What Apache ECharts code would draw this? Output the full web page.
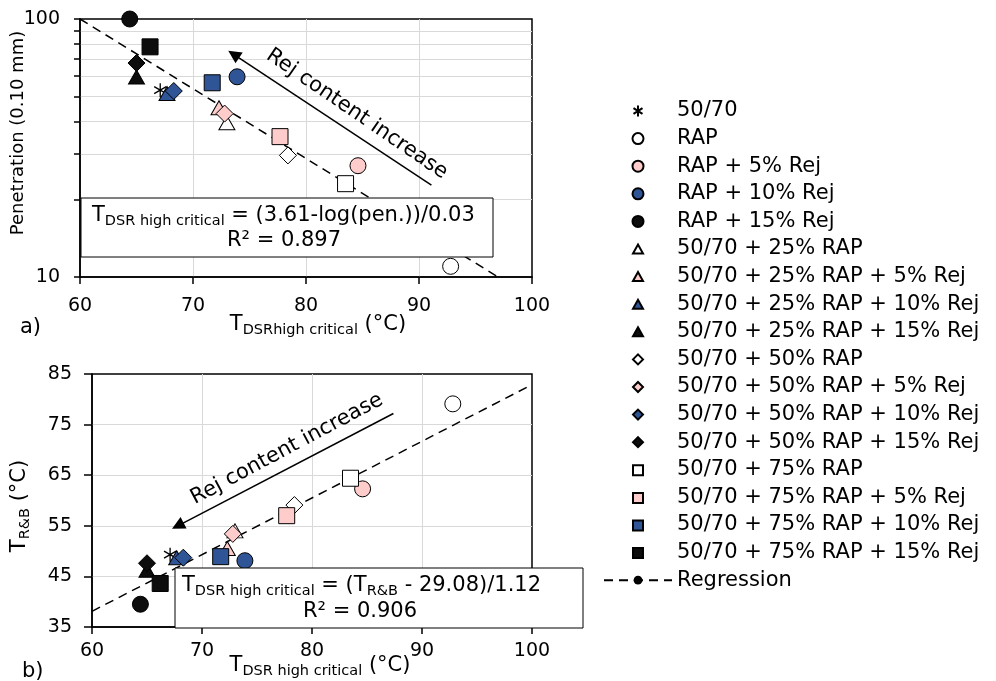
<!DOCTYPE html>
<html>
<head>
<meta charset="utf-8">
<script src="https://cdn.jsdelivr.net/npm/echarts@6/dist/echarts.min.js"></script>
<style>
  html, body { margin: 0; padding: 0; background: #fff; }
  #chart { width: 996px; height: 681px; }
</style>
</head>
<body>
<div id="chart"></div>
<script>
// mixtures (legend order)
const names = [
  '50/70', 'RAP', 'RAP + 5% Rej', 'RAP + 10% Rej', 'RAP + 15% Rej',
  '50/70 + 25% RAP', '50/70 + 25% RAP + 5% Rej', '50/70 + 25% RAP + 10% Rej', '50/70 + 25% RAP + 15% Rej',
  '50/70 + 50% RAP', '50/70 + 50% RAP + 5% Rej', '50/70 + 50% RAP + 10% Rej', '50/70 + 50% RAP + 15% Rej',
  '50/70 + 75% RAP', '50/70 + 75% RAP + 5% Rej', '50/70 + 75% RAP + 10% Rej', '50/70 + 75% RAP + 15% Rej'
]
const shapes = [
  'star', 'circle', 'circle', 'circle', 'circle',
  'triangle', 'triangle', 'triangle', 'triangle',
  'diamond', 'diamond', 'diamond', 'diamond',
  'rect', 'rect', 'rect', 'rect'
]
const fills = [
  '#000000', '#ffffff', '#ffcccc', '#2f5597', '#0d0d0d',
  '#ffffff', '#ffcccc', '#2f5597', '#0d0d0d',
  '#ffffff', '#ffcccc', '#2f5597', '#0d0d0d',
  '#ffffff', '#ffcccc', '#2f5597', '#0d0d0d'
]
// T DSR high critical (°C)
const tDSR = [67.1, 92.8, 84.6, 73.9, 64.4, 73.0, 72.3, 67.7, 65.0, 78.4, 72.8, 68.3, 65.0, 83.5, 77.7, 71.7, 66.2]
// penetration (0.10 mm)
const penetration = [53, 11, 27, 59.7, 100, 39.6, 45.3, 51.4, 59.6, 29.6, 43, 52.6, 67.5, 23, 35, 56.6, 78]
// T R&B (°C)
const tRB = [49.3, 79.1, 62.3, 48.1, 39.5, 54.0, 50.5, 48.7, 46.2, 59.1, 53.4, 48.7, 47.6, 64.4, 57.0, 48.9, 43.6]

const xTicks = [60, 70, 80, 90, 100]
const penTicks = [10, 20, 30, 40, 50, 60, 70, 80, 90, 100]
const penLabels = [10, 100]
const regA = [[60, 100], [97, 10]]
const regB = [[60, 38.1], [100, 82.9]]
const arrowA = [[91.1, 22.7], [73.6, 73]]
const arrowB = [[87.4, 77.2], [67.8, 55]]

const FONT = '"DejaVu Sans", Verdana, sans-serif'
const symbolOf = {
  star: 'path://M0,-10L0,10M-8.66,-5L8.66,5M-8.66,5L8.66,-5',
  circle: 'circle',
  triangle: 'triangle',
  diamond: 'diamond',
  rect: 'rect'
}
const sizeOf = { star: 14, circle: 16, triangle: [16, 14], diamond: [17, 17], rect: 16 }
// legend icons: drawn inside a 68x11 box so they keep their shape
const legendIconOf = {
  star: 'path://M0,0M68,11M34,0L34,11M29.5,2.6L38.5,8.4M29.5,8.4L38.5,2.6',
  circle: 'circle',
  triangle: 'path://M0,0M68,11M29,10L34,1L39,10Z',
  diamond: 'path://M0,0M68,11M34,0.5L39,5.5L34,10.5L29,5.5Z',
  rect: 'path://M0,0M68,11M29,1L39,1L39,11L29,11Z'
}

const chart = echarts.init(document.getElementById('chart'))

const series = []
names.forEach((name, i) => {
  const common = {
    name: name,
    type: 'scatter',
    symbol: symbolOf[shapes[i]],
    symbolSize: sizeOf[shapes[i]],
    symbolKeepAspect: true,
    itemStyle: {
      color: fills[i],
      opacity: 1,
      borderColor: '#000',
      borderWidth: shapes[i] === 'star' ? 1.3 : 1
    },
    z: 3,
    silent: true
  }
  series.push(Object.assign({}, common, { xAxisIndex: 0, yAxisIndex: 0, data: [[tDSR[i], penetration[i]]] }))
  series.push(Object.assign({}, common, { xAxisIndex: 1, yAxisIndex: 1, data: [[tDSR[i], tRB[i]]] }))
})

function regression(idx, data, arrow) {
  return {
    name: 'Regression',
    type: 'line',
    xAxisIndex: idx,
    yAxisIndex: idx,
    data: data,
    symbol: 'circle',
    symbolSize: 3,
    showSymbol: false,
    silent: true,
    z: 2,
    itemStyle: { color: '#000' },
    lineStyle: { color: '#000', width: 1.5, type: [9, 6] },
    markLine: {
      silent: true,
      symbol: ['none', 'triangle'],
      symbolSize: 13,
      label: { show: false },
      lineStyle: { color: '#000', width: 1.5, type: 'solid' },
      data: [[{ coord: arrow[0] }, { coord: arrow[1] }]]
    }
  }
}
series.push(regression(0, regA, arrowA))
series.push(regression(1, regB, arrowB))

const axisText = { fontSize: 19, color: '#000', fontFamily: FONT }
const grayLine = { show: true, showMinLine: false, showMaxLine: false, lineStyle: { color: '#d9d9d9', width: 1 } }
const blackLine = { show: true, lineStyle: { color: '#000', width: 1.5 } }
const tick = { show: true, inside: false, length: 7, lineStyle: { color: '#000', width: 1.5 } }

const rich = {
  t: { fontSize: 21, fontFamily: FONT, color: '#000', lineHeight: 26 },
  s: { fontSize: 14.5, fontFamily: FONT, color: '#000', lineHeight: 14, verticalAlign: 'bottom' }
}
function txt(x, y, text, align, rotation, extra) {
  return Object.assign({
    type: 'text', x: x, y: y, z: 100, rotation: rotation || 0, silent: true,
    style: { text: text, rich: rich, align: align, verticalAlign: 'middle', fontSize: 21, fontFamily: FONT, fill: '#000' }
  }, extra || {})
}

const legendData = names.map((name, i) => ({ name: name, icon: legendIconOf[shapes[i]] }))
legendData.push({ name: 'Regression' })

const option = {
  animation: false,
  backgroundColor: '#fff',
  textStyle: { fontFamily: FONT },
  grid: [
    { left: 80, top: 19, width: 452, height: 258, show: true, borderColor: '#000', borderWidth: 1.5 },
    { left: 92, top: 374, width: 440, height: 253, show: true, borderColor: '#000', borderWidth: 1.5 }
  ],
  xAxis: [
    {
      gridIndex: 0, type: 'value', min: 60, max: 100, interval: 10,
      axisLine: blackLine, axisTick: tick, splitLine: grayLine,
      axisLabel: Object.assign({ margin: 20 }, axisText)
    },
    {
      gridIndex: 1, type: 'value', min: 60, max: 100, interval: 10,
      axisLine: blackLine, axisTick: tick, splitLine: grayLine,
      axisLabel: Object.assign({ margin: 15 }, axisText)
    }
  ],
  yAxis: [
    {
      gridIndex: 0, type: 'log', logBase: 10, min: 10, max: 100,
      axisLine: blackLine,
      axisTick: Object.assign({}, tick, { length: 6, customValues: penTicks }),
      splitLine: grayLine,
      axisLabel: Object.assign({ margin: 20, customValues: penLabels }, axisText)
    },
    {
      gridIndex: 1, type: 'value', min: 35, max: 85, interval: 10,
      axisLine: blackLine, axisTick: Object.assign({}, tick, { length: 8 }), splitLine: grayLine,
      axisLabel: Object.assign({ margin: 20 }, axisText)
    }
  ],
  legend: {
    orient: 'vertical',
    left: 598,
    top: 95,
    itemWidth: 68,
    itemHeight: 11,
    itemGap: 5.6,
    selectedMode: false,
    textStyle: { fontSize: 21, lineHeight: 22, color: '#000', fontFamily: FONT },
    data: legendData
  },
  graphic: [
    // equation box a)
    { type: 'rect', z: 99, silent: true, shape: { x: 81, y: 198, width: 412, height: 59 }, style: { fill: '#fff', stroke: '#000', lineWidth: 1 } },
    txt(92, 216, '{t|T}{s|DSR high critical}{t| = (3.61-log(pen.))/0.03}', 'left'),
    txt(227, 241, '{t|R² = 0.897}', 'left'),
    // equation box b)
    { type: 'rect', z: 99, silent: true, shape: { x: 175, y: 568, width: 408, height: 60 }, style: { fill: '#fff', stroke: '#000', lineWidth: 1 } },
    txt(182, 586, '{t|T}{s|DSR high critical}{t| = (T}{s|R&B}{t| - 29.08)/1.12}', 'left'),
    txt(303, 612, '{t|R² = 0.906}', 'left'),
    // arrow notes
    txt(357, 114, 'Rej content increase', 'center', -0.6),
    txt(287, 449, 'Rej content increase', 'center', 0.49),
    // axis titles
    txt(318, 325, '{t|T}{s|DSRhigh critical}{t| (°C)}', 'center'),
    txt(320, 666, '{t|T}{s|DSR high critical}{t| (°C)}', 'center'),
    txt(18, 133, 'Penetration (0.10 mm)', 'center', Math.PI / 2, { style: { text: 'Penetration (0.10 mm)', align: 'center', verticalAlign: 'middle', fontSize: 18, fontFamily: FONT, fill: '#000' } }),
    txt(20, 506, '{t|T}{s|R&B}{t| (°C)}', 'center', Math.PI / 2),
    txt(20, 328, 'a)', 'left'),
    txt(22, 672, 'b)', 'left')
  ],
  series: series
}

chart.setOption(option)
window.addEventListener('resize', function () {
  chart.resize()
})
</script>
</body>
</html>
